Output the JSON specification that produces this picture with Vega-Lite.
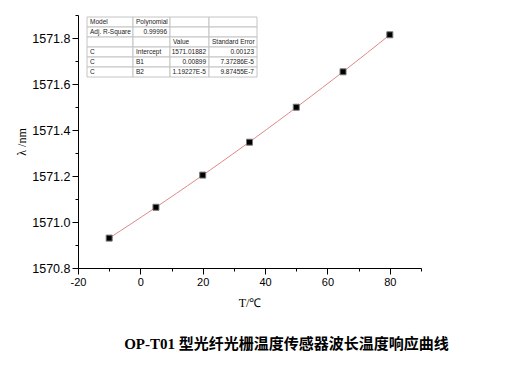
{
  "$schema": "https://vega.github.io/schema/vega-lite/v6.json",
  "width": 343,
  "height": 253,
  "autosize": {"type": "none"},
  "padding": {"left": 78, "top": 15, "right": 94, "bottom": 97},
  "background": "white",
  "config": {"view": {"stroke": null}},
  "title": {
    "text": "OP-T01 型光纤光栅温度传感器波长温度响应曲线",
    "orient": "bottom",
    "anchor": "middle",
    "frame": "group",
    "font": "Liberation Serif, Noto Sans CJK SC",
    "fontSize": 15,
    "fontWeight": "bold",
    "color": "#000000",
    "dx": 37,
    "offset": 29
  },
  "datasets": {
    "points": [
      {"T": -10, "lambda": 1570.930},
      {"T": 5, "lambda": 1571.064},
      {"T": 20, "lambda": 1571.204},
      {"T": 35, "lambda": 1571.347},
      {"T": 50, "lambda": 1571.499},
      {"T": 65, "lambda": 1571.653},
      {"T": 80, "lambda": 1571.814}
    ],
    "table": [
      {"r": 0, "r2": 1, "c": 0, "c2": 1, "t": "Model", "k": "l"},
      {"r": 0, "r2": 1, "c": 1, "c2": 2, "t": "Polynomial", "k": "l"},
      {"r": 0, "r2": 1, "c": 2, "c2": 3, "t": "", "k": "e"},
      {"r": 0, "r2": 1, "c": 3, "c2": 4, "t": "", "k": "e"},
      {"r": 1, "r2": 2, "c": 0, "c2": 1, "t": "Adj. R-Square", "k": "l"},
      {"r": 1, "r2": 2, "c": 1, "c2": 2, "t": "0.99996", "k": "n"},
      {"r": 1, "r2": 2, "c": 2, "c2": 3, "t": "", "k": "e"},
      {"r": 1, "r2": 2, "c": 3, "c2": 4, "t": "", "k": "e"},
      {"r": 2, "r2": 3, "c": 0, "c2": 1, "t": "", "k": "e"},
      {"r": 2, "r2": 3, "c": 1, "c2": 2, "t": "", "k": "e"},
      {"r": 2, "r2": 3, "c": 2, "c2": 3, "t": "Value", "k": "l"},
      {"r": 2, "r2": 3, "c": 3, "c2": 4, "t": "Standard Error", "k": "l"},
      {"r": 3, "r2": 4, "c": 0, "c2": 1, "t": "C", "k": "l"},
      {"r": 3, "r2": 4, "c": 1, "c2": 2, "t": "Intercept", "k": "l"},
      {"r": 3, "r2": 4, "c": 2, "c2": 3, "t": "1571.01882", "k": "n"},
      {"r": 3, "r2": 4, "c": 3, "c2": 4, "t": "0.00123", "k": "n"},
      {"r": 4, "r2": 5, "c": 0, "c2": 1, "t": "C", "k": "l"},
      {"r": 4, "r2": 5, "c": 1, "c2": 2, "t": "B1", "k": "l"},
      {"r": 4, "r2": 5, "c": 2, "c2": 3, "t": "0.00899", "k": "n"},
      {"r": 4, "r2": 5, "c": 3, "c2": 4, "t": "7.37286E-5", "k": "n"},
      {"r": 5, "r2": 6, "c": 0, "c2": 1, "t": "C", "k": "l"},
      {"r": 5, "r2": 6, "c": 1, "c2": 2, "t": "B2", "k": "l"},
      {"r": 5, "r2": 6, "c": 2, "c2": 3, "t": "1.19227E-5", "k": "n"},
      {"r": 5, "r2": 6, "c": 3, "c2": 4, "t": "9.87455E-7", "k": "n"}
    ]
  },
  "layer": [
    {
      "data": {"name": "points"},
      "encoding": {
        "x": {
          "field": "T",
          "type": "quantitative",
          "scale": {"domain": [-20, 90], "nice": false, "zero": false},
          "axis": {
            "title": "T/℃",
            "titleFont": "Liberation Serif",
            "titleFontSize": 12,
            "titleFontWeight": "normal",
            "titleColor": "#000000",
            "titlePadding": 10,
            "values": [-20, -10, 0, 10, 20, 30, 40, 50, 60, 70, 80, 90],
            "labelExpr": "datum.value % 20 == 0 ? '' + datum.value : ''",
            "labelFont": "Liberation Sans",
            "labelFontSize": 11,
            "labelColor": "#000000",
            "labelPadding": 2,
            "labelFlush": false,
            "grid": false,
            "domainColor": "#000000",
            "tickColor": "#000000",
            "tickSize": {"condition": {"test": "datum.value % 20 == 0", "value": 6}, "value": 3}
          }
        },
        "y": {
          "field": "lambda",
          "type": "quantitative",
          "scale": {"domain": [1570.8, 1571.9], "nice": false, "zero": false},
          "axis": {
            "title": "λ /nm",
            "titleFont": "Liberation Serif",
            "titleFontSize": 12,
            "titleFontWeight": "normal",
            "titleColor": "#000000",
            "titlePadding": 3,
            "values": [1570.8, 1570.9, 1571.0, 1571.1, 1571.2, 1571.3, 1571.4, 1571.5, 1571.6, 1571.7, 1571.8, 1571.9],
            "labelExpr": "round(datum.value * 10) % 2 == 0 ? format(datum.value, '.1f') : ''",
            "labelFont": "Liberation Sans",
            "labelFontSize": 12.5,
            "labelColor": "#000000",
            "labelPadding": 2,
            "labelFlush": false,
            "grid": false,
            "domainColor": "#000000",
            "tickColor": "#000000",
            "tickSize": {"condition": {"test": "round(datum.value * 10) % 2 == 0", "value": 6}, "value": 3}
          }
        }
      },
      "layer": [
        {
          "transform": [
            {"regression": "lambda", "on": "T", "method": "poly", "order": 2, "extent": [-10, 80]}
          ],
          "mark": {"type": "line", "color": "#e08888", "strokeWidth": 1}
        },
        {
          "mark": {"type": "point", "shape": "square", "filled": true, "fill": "#000000", "stroke": "#777777", "strokeWidth": 1, "size": 36, "opacity": 1}
        }
      ]
    },
    {
      "data": {"name": "table"},
      "encoding": {
        "y": {"field": "r", "type": "quantitative", "scale": {"domain": [0, 6], "range": [2, 62], "nice": false, "zero": false}, "axis": null}
      },
      "layer": [
        {
          "mark": {"type": "rect", "fill": "white", "stroke": "#c4c4c4", "strokeWidth": 1},
          "encoding": {
            "x": {"field": "c", "type": "quantitative", "scale": {"domain": [0, 1, 2, 3, 4], "range": [9, 55, 92, 131, 179], "nice": false, "zero": false}, "axis": null},
            "x2": {"field": "c2"},
            "y2": {"field": "r2"}
          }
        },
        {
          "transform": [{"filter": "datum.k == 'l'"}],
          "mark": {"type": "text", "align": "left", "baseline": "middle", "dx": 3, "dy": 5, "font": "Liberation Sans", "fontSize": 6.5, "color": "#222222"},
          "encoding": {
            "x": {"field": "c", "type": "quantitative", "scale": {"domain": [0, 1, 2, 3, 4], "range": [9, 55, 92, 131, 179], "nice": false, "zero": false}, "axis": null},
            "text": {"field": "t"}
          }
        },
        {
          "transform": [{"filter": "datum.k == 'n'"}],
          "mark": {"type": "text", "align": "right", "baseline": "middle", "dx": -3, "dy": 5, "font": "Liberation Sans", "fontSize": 6.5, "color": "#222222"},
          "encoding": {
            "x": {"field": "c2", "type": "quantitative", "scale": {"domain": [0, 1, 2, 3, 4], "range": [9, 55, 92, 131, 179], "nice": false, "zero": false}, "axis": null},
            "text": {"field": "t"}
          }
        }
      ]
    }
  ],
  "resolve": {"scale": {"x": "independent", "y": "independent"}}
}
